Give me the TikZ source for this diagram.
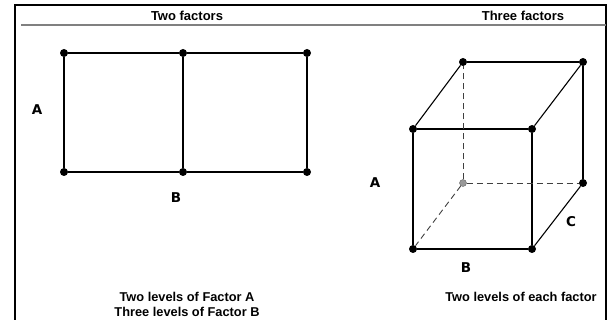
\documentclass[tikz,border=0pt]{standalone}
\usepackage{fontspec}
\setmainfont{Liberation Sans}
\newfontfamily\labelfont{DejaVu Sans}
\usetikzlibrary{positioning}

\begin{document}
\begin{tikzpicture}[x=1pt,y=-1pt,
  dot/.style={circle,fill=black,inner sep=0pt,minimum size=8pt},
  hiddendot/.style={circle,fill=gray!80,draw=black!60,inner sep=0pt,minimum size=7pt},
  edge/.style={line width=1.1pt},
  hidden/.style={line width=0.9pt,dash pattern=on 6pt off 4pt,black!75},
  heading/.style={font=\bfseries\fontsize{13}{15}\selectfont},
  caption/.style={font=\bfseries\fontsize{12.8}{15}\selectfont,align=center},
  factor/.style={font=\labelfont\bfseries\fontsize{13.5}{15}\selectfont}
]
  \useasboundingbox (0,0) rectangle (610,320);
  \draw[line width=2pt] (15,320) |- (606,5) -- (606,320);
  \draw[line width=2pt,gray] (21,25) -- (606,25);

  \node[heading] (twotitle)   at (187,16) {Two factors};
  \node[heading] (threetitle) at (523,16) {Three factors};

  \foreach \n/\x in {1/64,2/183,3/307}{
    \node[dot] (t\n) at (\x,53)  {};
    \node[dot] (b\n) at (\x,172) {};
  }
  \foreach \a/\b in {t1/t2,t2/t3,b1/b2,b2/b3,t1/b1,t2/b2,t3/b3}{
    \draw[edge] (\a)--(\b);
  }
  \node[factor] (fa) at (37,110)  {A};
  \node[factor] (fb) at (176,198) {B};
  \node[caption] (twolevels) at (187,304.5) {Two levels of Factor A\\Three levels of Factor B};

  \node[dot] (ftl) at (413,129) {};
  \node[dot] (ftr) at (532,129) {};
  \node[dot] (fbl) at (413,249) {};
  \node[dot] (fbr) at (532,249) {};
  \node[dot] (btl) at (463,62)  {};
  \node[dot] (btr) at (583,62)  {};
  \node[dot] (bbr) at (583,183) {};
  \node[hiddendot] (bbl) at (463,183) {};

  \foreach \a/\b in {ftl/ftr,ftr/fbr,fbr/fbl,fbl/ftl,btl/btr,btr/bbr,
                     ftl/btl,ftr/btr,fbr/bbr}{
    \draw[edge] (\a)--(\b);
  }
  \foreach \a/\b in {bbl/btl,bbl/bbr,bbl/fbl}{
    \draw[hidden] (\a)--(\b);
  }
  \node[factor] (ca) at (375,183) {A};
  \node[factor] (cb) at (466,268) {B};
  \node[factor] (cc) at (571,222) {C};
  \node[caption] (eachlevel) at (521,297) {Two levels of each factor};
\end{tikzpicture}
\end{document}
